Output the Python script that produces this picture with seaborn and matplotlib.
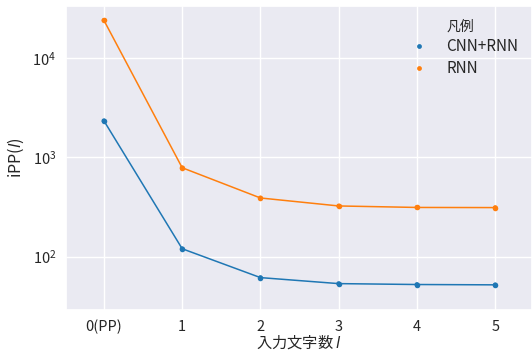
import pandas as pd
import matplotlib.pyplot as plt
import seaborn as sns

# Values
steps = ["0(PP)", "1", "2", "3", "4", "5"]
cnn_rnn = [2340, 120, 61.4, 53.4, 52.3, 51.9]
rnn = [24100, 787, 390, 324, 313, 312]

df = pd.DataFrame({
    "step": steps * 2,
    "ipp": cnn_rnn + rnn,
    "model": ["CNN+RNN"] * len(steps) + ["RNN"] * len(steps),
})

sns.set_theme(style="darkgrid", palette="tab10")
plt.rcParams['font.family'] = ['Noto Sans CJK JP', 'DejaVu Sans']
plt.rcParams['mathtext.fontset'] = 'custom'
plt.rcParams['mathtext.rm'] = 'Noto Sans CJK JP'
plt.rcParams['mathtext.it'] = 'DejaVu Sans:italic'
plt.rcParams['axes.unicode_minus'] = False

fig = plt.figure(figsize=(5.32, 3.55), dpi=100)
ax = fig.add_axes([0.124, 0.127, 0.876, 0.856])

# Lines with small markers, legend from a scatter layer (dots only)
sns.lineplot(data=df, x="step", y="ipp", hue="model", marker="o",
             markersize=4, markeredgewidth=0, linewidth=1.1,
             legend=False, ax=ax)
sns.scatterplot(data=df, x="step", y="ipp", hue="model", s=12,
                linewidth=0, ax=ax)

ax.set_yscale("log")
ax.set_ylim(29, 33600)
ax.set_xlim(-0.485, 5.47)
ax.set_xlabel("入力文字数 $l$", fontsize=11, va="center")
ax.set_ylabel("iPP($l$)", fontsize=11.5, va="center")
ax.xaxis.set_label_coords(0.5, -0.108)
ax.yaxis.set_label_coords(-0.107, 0.5)
ax.tick_params(labelsize=10.5, pad=1)

leg = ax.legend(title="凡例", frameon=False, fontsize=11,
                title_fontsize=10, loc="upper right",
                bbox_to_anchor=(1.0, 1.0), labelspacing=0.3)

fig.savefig("out.png", dpi=100)
